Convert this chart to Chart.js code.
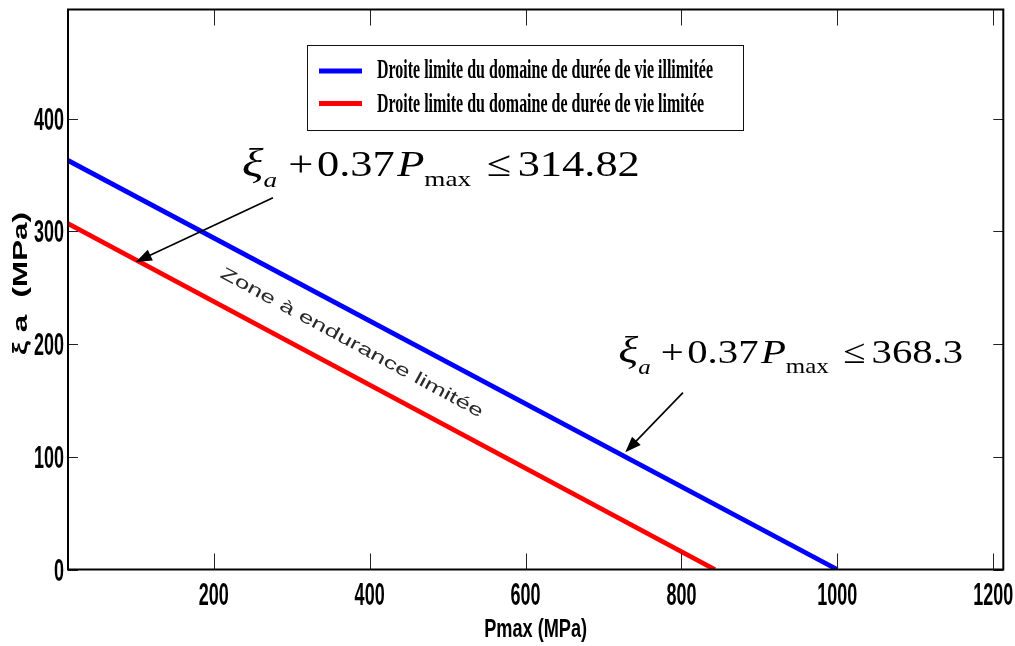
<!DOCTYPE html>
<html>
<head>
<meta charset="utf-8">
<script src="https://cdn.jsdelivr.net/npm/chart.js@4/dist/chart.umd.min.js"></script>
<style>
  html, body { margin: 0; padding: 0; background: #ffffff; }
  canvas { display: block; }
</style>
</head>
<body>
<canvas id="c" width="1015" height="646"></canvas>
<script>
// ---- data ----
const blueX = [13, 1000];
const blueY = [363, 0];
const redX = [13, 843];
const redY = [307, 0];
const xTickValues = [200, 400, 600, 800, 1000, 1200];
const yTickValues = [0, 100, 200, 300, 400];
const seriesLabels = [
  'Droite limite du domaine de durée de vie illimitée',
  'Droite limite du domaine de durée de vie limitée'
];
const xTitle = 'Pmax (MPa)';
const yTitle = 'ξ a  (MPa)';
const zoneLabel = 'Zone à endurance limitée';
const eqValues = ['314.82', '368.3'];
// annotation anchors in data units: [textX, textY, tailX, tailY, tipX, tipY]
const eqAnchors = [
  [236, 349, 276, 330, 100, 273],
  [719, 183, 802, 157, 728, 104]
];
const zoneAnchor = [377, 201];

const serif = '"Liberation Serif", "Times New Roman", serif';
const sans = '"Liberation Sans", Arial, sans-serif';

function fitText(ctx, text, font, x, y, align, sx, sy, color) {
  ctx.save();
  ctx.font = font;
  ctx.fillStyle = color || '#000';
  ctx.textAlign = align;
  ctx.textBaseline = 'alphabetic';
  ctx.translate(x, y);
  ctx.scale(sx, sy);
  ctx.fillText(text, 0, 0);
  ctx.restore();
}

function drawArrow(ctx, x1, y1, x2, y2) {
  const ang = Math.atan2(y2 - y1, x2 - x1);
  const L = 16, W = 6;
  ctx.save();
  ctx.strokeStyle = '#000';
  ctx.fillStyle = '#000';
  ctx.lineWidth = 1.6;
  ctx.beginPath();
  ctx.moveTo(x1, y1);
  ctx.lineTo(x2 - Math.cos(ang) * L * 0.8, y2 - Math.sin(ang) * L * 0.8);
  ctx.stroke();
  ctx.beginPath();
  ctx.moveTo(x2, y2);
  ctx.lineTo(x2 - Math.cos(ang) * L - Math.sin(ang) * W, y2 - Math.sin(ang) * L + Math.cos(ang) * W);
  ctx.lineTo(x2 - Math.cos(ang) * L + Math.sin(ang) * W, y2 - Math.sin(ang) * L - Math.cos(ang) * W);
  ctx.closePath();
  ctx.fill();
  ctx.restore();
}

function drawEquation(ctx, x, baseline, targetW, sy, value) {
  const big = 36, small = 22;
  const segs = [
    { t: 'ξ', f: 'italic 41px ' + serif },
    { t: 'a', f: 'italic ' + small + 'px ' + serif, dy: 11 },
    { gap: 9 },
    { t: '+', f: big + 'px ' + serif },
    { gap: 3 },
    { t: '0.37', f: big + 'px ' + serif },
    { gap: 2 },
    { t: 'P', f: 'italic ' + big + 'px ' + serif },
    { t: 'max', f: small + 'px ' + serif, dy: 10 },
    { gap: 13 },
    { t: '≤', f: big + 'px ' + serif },
    { gap: 5 },
    { t: value, f: big + 'px ' + serif }
  ];
  ctx.save();
  let total = 0;
  segs.forEach(s => {
    if (s.gap) { s.w = s.gap; }
    else { ctx.font = s.f; s.w = ctx.measureText(s.t).width; }
    total += s.w;
  });
  const sx = targetW / total;
  ctx.translate(x, baseline);
  ctx.scale(sx, sy);
  ctx.fillStyle = '#000';
  ctx.textBaseline = 'alphabetic';
  ctx.textAlign = 'left';
  let cx = 0;
  segs.forEach(s => {
    if (!s.gap) {
      ctx.font = s.f;
      ctx.fillText(s.t, cx, s.dy || 0);
    }
    cx += s.w;
  });
  ctx.restore();
}

const overlay = {
  id: 'overlay',
  afterDatasetsDraw(chart) {
    const ctx = chart.ctx;
    const a = chart.chartArea;
    const xs = chart.scales.x, ys = chart.scales.y;

    // ticks (inward, all four sides)
    ctx.save();
    ctx.strokeStyle = '#222';
    ctx.lineWidth = 1;
    xTickValues.forEach(v => {
      const px = Math.round(xs.getPixelForValue(v)) + 0.5;
      ctx.beginPath();
      ctx.moveTo(px, a.bottom); ctx.lineTo(px, a.bottom - 16);
      ctx.moveTo(px, a.top); ctx.lineTo(px, a.top + 16);
      ctx.stroke();
    });
    yTickValues.forEach(v => {
      const py = Math.round(ys.getPixelForValue(v)) + 0.5;
      ctx.beginPath();
      ctx.moveTo(a.left, py); ctx.lineTo(a.left + 10, py);
      ctx.moveTo(a.right, py); ctx.lineTo(a.right - 10, py);
      ctx.stroke();
    });
    // axes box
    ctx.strokeStyle = '#000';
    ctx.lineWidth = 2;
    ctx.strokeRect(a.left, a.top, a.right - a.left, a.bottom - a.top);
    ctx.restore();

    // tick labels
    const tickFont = 'bold 18px ' + sans;
    xTickValues.forEach(v => {
      fitText(ctx, String(v), tickFont, xs.getPixelForValue(v), a.bottom + 35.5, 'center', 1, 1.7);
    });
    yTickValues.forEach(v => {
      fitText(ctx, String(v), tickFont, a.left - 4, ys.getPixelForValue(v) + 11, 'right', 1, 1.7);
    });

    // axis titles
    ctx.save();
    ctx.font = 'bold 18px ' + sans;
    const wx = ctx.measureText(xTitle).width;
    ctx.restore();
    fitText(ctx, xTitle, 'bold 18px ' + sans, (a.left + a.right) / 2, 637, 'center', 103 / wx, 1.4);

    ctx.save();
    ctx.font = 'bold 20px ' + sans;
    const wy = ctx.measureText(yTitle).width;
    ctx.translate(27, 283.5);
    ctx.rotate(-Math.PI / 2);
    ctx.scale(143 / wy, 1);
    ctx.fillStyle = '#000';
    ctx.textAlign = 'center';
    ctx.textBaseline = 'alphabetic';
    ctx.fillText(yTitle, 0, 0);
    ctx.restore();

    // zone label, rotated along the lines
    const p0 = xs.getPixelForValue(blueX[0]), q0 = ys.getPixelForValue(blueY[0]);
    const p1 = xs.getPixelForValue(blueX[1]), q1 = ys.getPixelForValue(blueY[1]);
    const ang = Math.atan2(q1 - q0, p1 - p0) + 0.008;
    ctx.save();
    ctx.font = '15px ' + sans;
    const wz = ctx.measureText(zoneLabel).width;
    ctx.translate(xs.getPixelForValue(zoneAnchor[0]), ys.getPixelForValue(zoneAnchor[1]));
    ctx.rotate(ang);
    ctx.scale(296 / wz, 1.15);
    ctx.fillStyle = '#2a2a2a';
    ctx.textAlign = 'center';
    ctx.textBaseline = 'middle';
    ctx.fillText(zoneLabel, 0, 0);
    ctx.restore();

    // equations and arrows
    const eqW = [398, 345];
    const eqSy = [1.0, 0.95];
    eqAnchors.forEach((an, i) => {
      drawEquation(ctx, xs.getPixelForValue(an[0]), ys.getPixelForValue(an[1]), eqW[i], eqSy[i], eqValues[i]);
      drawArrow(ctx, xs.getPixelForValue(an[2]), ys.getPixelForValue(an[3]),
                     xs.getPixelForValue(an[4]), ys.getPixelForValue(an[5]));
    });

    // legend box
    const lx = 307, ly = 45, lw = 436, lh = 85;
    ctx.save();
    ctx.fillStyle = '#fff';
    ctx.fillRect(lx, ly, lw, lh);
    ctx.strokeStyle = '#111';
    ctx.lineWidth = 1;
    ctx.strokeRect(lx + 0.5, ly + 0.5, lw, lh);
    ctx.lineWidth = 5;
    const colors = ['#0000ff', '#ff0000'];
    const rowY = [71, 103.5];
    colors.forEach((c, i) => {
      ctx.strokeStyle = c;
      ctx.beginPath();
      ctx.moveTo(319, rowY[i]); ctx.lineTo(362, rowY[i]);
      ctx.stroke();
    });
    ctx.font = 'bold 20px ' + serif;
    const wl = ctx.measureText(seriesLabels[0]).width;
    ctx.restore();
    const lsx = 336 / wl;
    fitText(ctx, seriesLabels[0], 'bold 20px ' + serif, 377, 78.3, 'left', lsx, 1.33);
    fitText(ctx, seriesLabels[1], 'bold 20px ' + serif, 377, 111.7, 'left', lsx, 1.33);
  }
};

new Chart(document.getElementById('c'), {
  type: 'scatter',
  data: {
    datasets: [
      {
        label: seriesLabels[0],
        data: blueX.map((x, i) => ({ x: x, y: blueY[i] })),
        showLine: true,
        borderColor: '#0000ff',
        backgroundColor: '#0000ff',
        borderWidth: 4.8,
        pointRadius: 0,
        fill: false
      },
      {
        label: seriesLabels[1],
        data: redX.map((x, i) => ({ x: x, y: redY[i] })),
        showLine: true,
        borderColor: '#ff0000',
        backgroundColor: '#ff0000',
        borderWidth: 4.8,
        pointRadius: 0,
        fill: false
      }
    ]
  },
  options: {
    responsive: false,
    animation: false,
    devicePixelRatio: 1,
    layout: { padding: { left: 68, top: 9.5, right: 11.7, bottom: 76.5 } },
    plugins: { legend: { display: false }, tooltip: { enabled: false } },
    scales: {
      x: { type: 'linear', min: 13, max: 1213, display: false },
      y: { type: 'linear', min: 0, max: 497, display: false }
    }
  },
  plugins: [overlay]
});
</script>
</body>
</html>
